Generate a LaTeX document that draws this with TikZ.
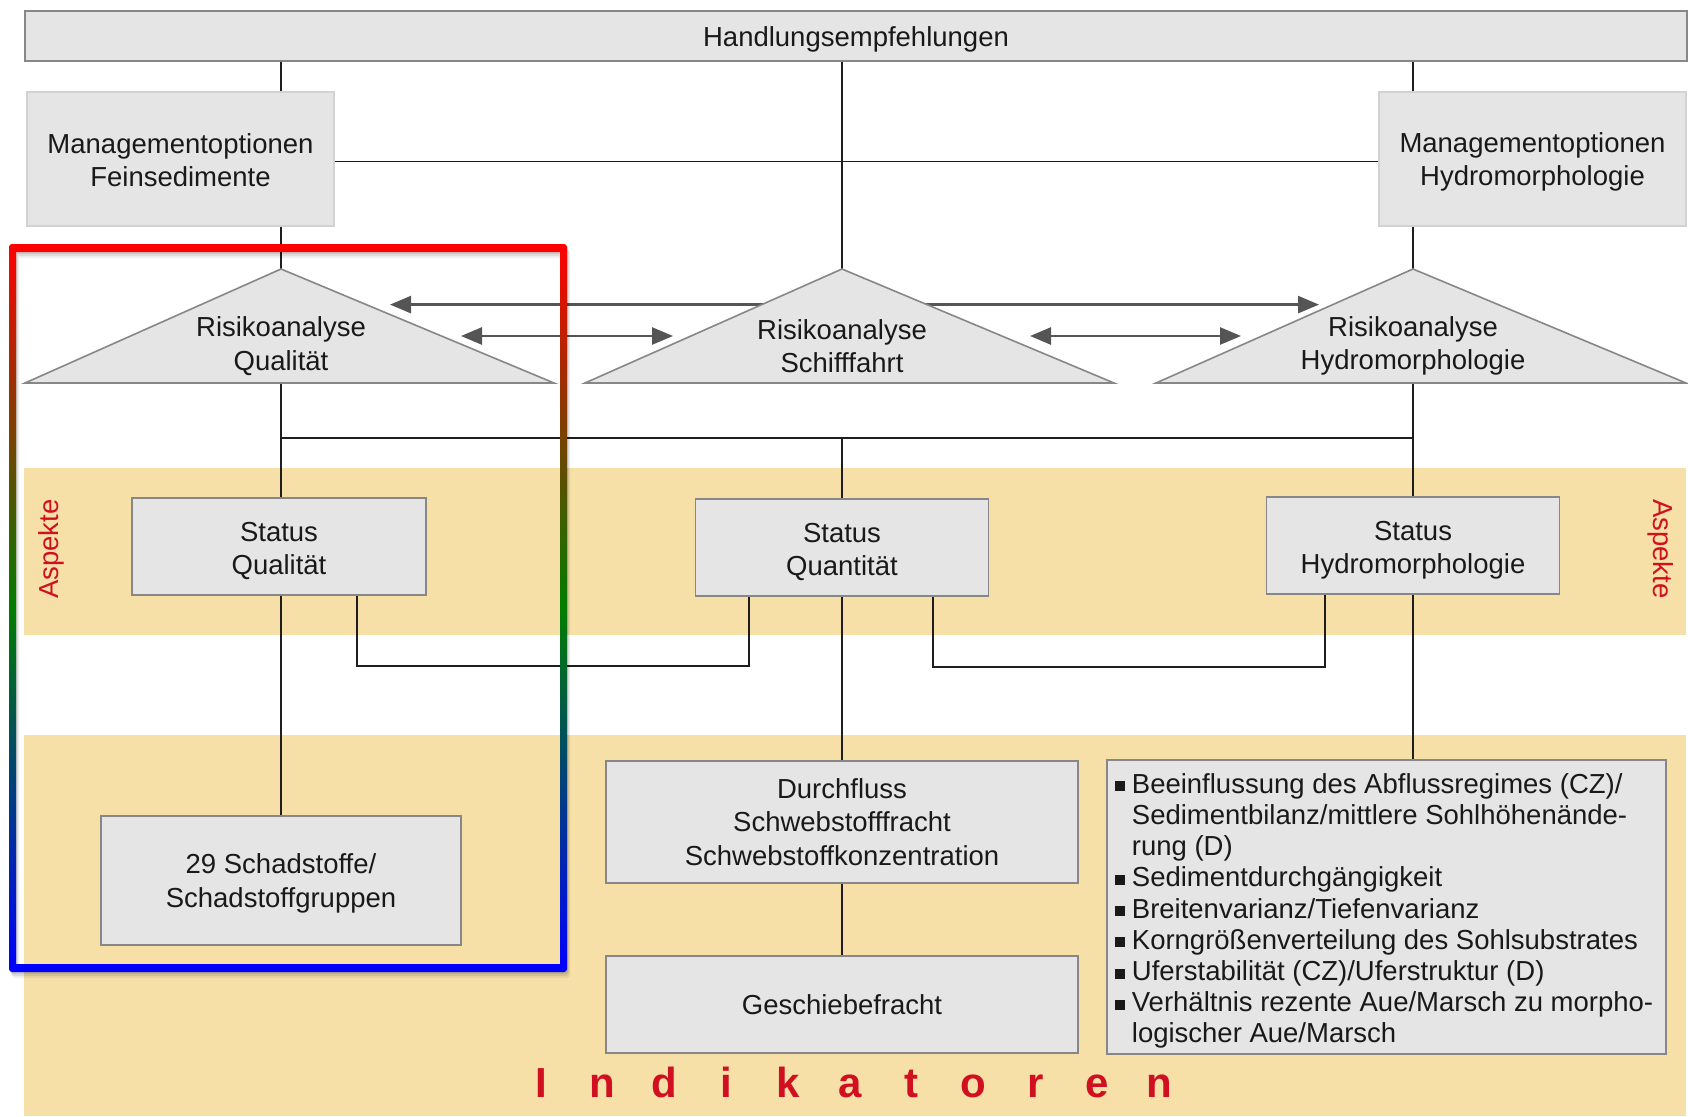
\documentclass[tikz,border=0pt]{standalone}
\usepackage{fontspec}
\setmainfont{Liberation Sans}
\usetikzlibrary{arrows.meta}

\definecolor{boxfill}{RGB}{228,229,228}
\definecolor{boxline}{RGB}{135,135,135}
\definecolor{softline}{RGB}{210,210,210}
\definecolor{bandfill}{RGB}{246,224,168}
\definecolor{arrgray}{RGB}{85,85,85}
\definecolor{connline}{RGB}{30,30,30}
\definecolor{lblred}{RGB}{208,16,32}
\definecolor{txt}{RGB}{25,25,25}
\definecolor{framegreen}{RGB}{0,125,0}

% bullet square and indent used in the indicator list
\newcommand\sqbullet{\makebox[16.5pt][l]{\rule[2pt]{10pt}{10pt}}}
\newcommand\bulletgap{\makebox[16.5pt]{}}
% one spaced letter of the band title
\newcommand\spacedltr[1]{\makebox[61.8pt]{#1}}

\begin{document}
\begin{tikzpicture}[x=1pt,y=-1pt,
  every node/.style={text=txt, font=\fontsize{27.5}{33.4}\selectfont},
  box/.style={draw=boxline, fill=boxfill, line width=1.6pt, inner sep=0pt},
  softbox/.style={draw=softline, fill=boxfill, line width=1.4pt, inner sep=0pt},
  lbl/.style={align=center, inner sep=0pt},
  tri/.style={draw=boxline, fill=boxfill, line width=1.6pt, line join=miter},
  conn/.style={draw=connline, line width=1.8pt},
  twoway/.style={draw=arrgray, line width=2.6pt,
     {Triangle[length=21pt,width=17pt]}-{Triangle[length=21pt,width=17pt]}},
  band/.style={fill=bandfill, draw=none},
  sidelabel/.style={text=lblred, font=\fontsize{27.5}{33}\selectfont},
]
\useasboundingbox (0,0) rectangle (1688,1116);

% background bands
\fill[band] (24,468) rectangle (1686,635);
\fill[band] (24,735) rectangle (1686,1116);

% key points of the three risk-analysis triangles
\coordinate (t1apex) at (281,269);
\coordinate (t2apex) at (842,269);
\coordinate (t3apex) at (1413,269);
\coordinate (t1base) at (281,383);
\coordinate (t2base) at (842,383);
\coordinate (t3base) at (1413,383);
\coordinate (jl) at (281,438);
\coordinate (jr) at (1413,438);

% arrow end points between the triangles
\coordinate (a1l) at (390,304.6);
\coordinate (a1r) at (1319,304.6);
\coordinate (a2l) at (461,336);
\coordinate (a2r) at (673,336);
\coordinate (a3l) at (1030,336);
\coordinate (a3r) at (1241,336);

% boxes
\node[box, minimum width=1662, minimum height=50] (hb) at (856,36) {};
\node[softbox, minimum width=307, minimum height=134] (mf) at (180.5,159) {};
\node[softbox, minimum width=307, minimum height=134] (mh) at (1532.5,159) {};

\node[box, minimum width=294, minimum height=97] (sq) at (279,546.5) {};
\node[box, minimum width=293, minimum height=97] (sm) at (842,547.5) {};
\node[box, minimum width=293, minimum height=97] (sh) at (1413,545.5) {};

\node[box, minimum width=360, minimum height=129] (sd) at (281,880.5) {};
\node[box, minimum width=472, minimum height=122] (df) at (842,822) {};
\node[box, minimum width=472, minimum height=97] (gf) at (842,1004.5) {};
\node[box, minimum width=559, minimum height=294] (ls) at (1386.5,907) {};

% box texts
\node[lbl] (hbt) at ([yshift=-3pt]hb.center) {Handlungsempfehlungen};
\node[lbl] (mft) at ([yshift=-1pt]mf.center) {Managementoptionen\\Feinsedimente};
\node[lbl] (mht) at ([yshift=-3pt]mh.center) {Managementoptionen\\Hydromorphologie};
\node[lbl] (sqt) at ([yshift=-4.5pt]sq.center) {Status\\Qualität};
\node[lbl] (smt) at ([yshift=-4.5pt]sm.center) {Status\\Quantität};
\node[lbl] (sht) at ([yshift=-5pt]sh.center) {Status\\Hydromorphologie};
\node[lbl] (sdt) at ([yshift=-3pt]sd.center) {29 Schadstoffe/\\Schadstoffgruppen};
\node[lbl] (dft) at (df.center) {Durchfluss\\Schwebstofffracht\\Schwebstoffkonzentration};
\node[lbl] (gft) at (gf.center) {Geschiebefracht};

% connectors
\draw[conn] (hb.south -| t1apex) -- (t1apex |- mf.north);
\draw[conn] (t1apex |- mf.south) -- (t1apex);
\draw[conn] (hb.south -| t3apex) -- (t3apex |- mh.north);
\draw[conn] (t3apex |- mh.south) -- (t3apex);
\draw[conn] (hb.south -| t2apex) -- (t2apex);
\draw[conn] ([yshift=-2.5pt]mf.east) -- ([yshift=-2.5pt]mf.east -| mh.west);

\draw[conn] (t1base) -- (t1base |- sq.north);
\draw[conn] (jl) -- (jr);
\draw[conn] (t3base) -- (sh.north);
\draw[conn] (jl -| sm.north) -- (sm.north);

\draw[conn] ([xshift=78pt]sq.south) -- ++(0,70) -| ([xshift=-93pt]sm.south);
\draw[conn] ([xshift=91pt]sm.south) -- ++(0,70) -| ([xshift=-88pt]sh.south);

\draw[conn] (sq.south -| sd.north) -- (sd.north);
\draw[conn] (sm.south) -- (df.north);
\draw[conn] (df.south) -- (gf.north);
\draw[conn] (sh.south) -- (sh.south |- ls.north);

% two-way arrows (drawn below the triangles)
\draw[twoway] (a1l) -- (a1r);
\draw[twoway] (a2l) -- (a2r);
\draw[twoway] (a3l) -- (a3r);

% risk-analysis triangles
\draw[tri] (t1apex) -- (554,383) -- (25,383) -- cycle;
\draw[tri] (t2apex) -- (1114,383) -- (585,383) -- cycle;
\draw[tri] (t3apex) -- (1686,383) -- (1156,383) -- cycle;
\node[lbl] (r1) at (281,346) {Risikoanalyse\\Qualität};
\node[lbl] (r2) at (842,346) {Risikoanalyse\\Schifffahrt};
\node[lbl] (r3) at (1413,346) {Risikoanalyse\\Hydromorphologie};

% indicator list
\node[align=left, inner sep=0pt, anchor=north west,
      font=\fontsize{27.5}{31.2}\selectfont] (lt) at ([shift={(9pt,-14pt)}]ls.north west)
  {\sqbullet Beeinflussung des Abflussregimes (CZ)/\\
   \bulletgap Sedimentbilanz/mittlere Sohlhöhenände-\\
   \bulletgap rung (D)\\
   \sqbullet Sedimentdurchgängigkeit\\
   \sqbullet Breitenvarianz/Tiefenvarianz\\
   \sqbullet Korngrößenverteilung des Sohlsubstrates\\
   \sqbullet Uferstabilität (CZ)/Uferstruktur (D)\\
   \sqbullet Verhältnis rezente Aue/Marsch zu morpho-\\
   \bulletgap logischer Aue/Marsch};

% band labels
\node[sidelabel, rotate=90] (asl) at (51,549) {Aspekte};
\node[sidelabel, rotate=-90] (asr) at (1661,549) {Aspekte};
\node[text=lblred, font=\fontsize{42}{48}\selectfont\bfseries] (ind) at (850,1082)
  {\spacedltr{I}\spacedltr{n}\spacedltr{d}\spacedltr{i}\spacedltr{k}\spacedltr{a}\spacedltr{t}\spacedltr{o}\spacedltr{r}\spacedltr{e}\spacedltr{n}};

% soft drop shadow of the highlight frame
\foreach \dx/\dy/\op in {1/2/0.10, 2/4/0.08, 3/6/0.06}{
  \fill[black, opacity=\op, even odd rule]
    ([shift={(\dx pt,-\dy pt)}]9,244) [rounded corners=3pt] rectangle ([shift={(\dx pt,-\dy pt)}]567,972)
    [sharp corners] ([shift={(\dx pt,-\dy pt)}]16,252) rectangle ([shift={(\dx pt,-\dy pt)}]560,964);
}
% highlight frame with colour gradient
\shade[even odd rule, top color=red, bottom color=blue, middle color=framegreen]
  (9,244) [rounded corners=3pt] rectangle (567,972) [sharp corners] (16,252) rectangle (560,964);
\end{tikzpicture}
\end{document}
